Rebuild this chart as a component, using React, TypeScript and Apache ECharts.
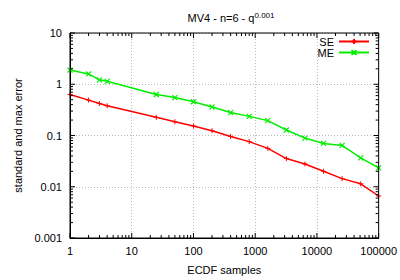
import React, { useEffect, useRef } from "react";
import * as echarts from "echarts";

const samples = [1, 2, 3, 4, 25, 50, 100, 200, 400, 800, 1600, 3200, 6400, 12800, 25600, 51200, 100000];
const seValues = [0.63, 0.49, 0.42, 0.38, 0.226, 0.185, 0.153, 0.124, 0.096, 0.076, 0.056, 0.0355, 0.0278, 0.02, 0.0144, 0.0114, 0.0066];
const meValues = [1.89, 1.59, 1.22, 1.14, 0.63, 0.55, 0.455, 0.36, 0.28, 0.236, 0.195, 0.128, 0.089, 0.07, 0.064, 0.0366, 0.0233];
const xTickLabels = ["1", "10", "100", "1000", "10000", "100000"];
const yTickLabels = ["0.001", "0.01", "0.1", "1", "10"];
const xMajor = [1, 10, 100, 1000, 10000, 100000];
const yMajor = [0.001, 0.01, 0.1, 1, 10];

const X_MIN = 1, X_MAX = 100000, Y_MIN = 0.001, Y_MAX = 10;

function minorsOf(majors: number[]) {
  const out: number[] = [];
  for (let i = 0; i < majors.length - 1; i++) {
    for (let k = 2; k <= 9; k++) out.push(majors[i] * k);
  }
  return out;
}

const FONT = "Liberation Sans, Arial, sans-serif";

export default function App() {
  const ref = useRef<HTMLDivElement>(null);
  useEffect(() => {
    const chart = echarts.init(ref.current!, null, { renderer: "svg" });
    const xTicks = [
      ...xMajor.map((v) => [v, Y_MIN, 5]),
      ...minorsOf(xMajor).map((v) => [v, Y_MIN, 3]),
    ];
    const yTicks = [
      ...yMajor.map((v) => [X_MIN, v, 5]),
      ...minorsOf(yMajor).map((v) => [X_MIN, v, 3]),
    ];
    const tickStyle = { stroke: "#000", lineWidth: 1 };
    chart.setOption({
      animation: false,
      backgroundColor: "#fff",
      textStyle: { fontFamily: FONT },
      title: {
        text: "MV4 - n=6 - q{sup|0.001}",
        left: 226,
        textAlign: "center",
        top: 6,
        textStyle: {
          fontFamily: FONT,
          fontSize: 11,
          fontWeight: "normal",
          color: "#000",
          rich: { sup: { fontSize: 8, verticalAlign: "top", padding: [0, 0, 6, 0], fontFamily: FONT, color: "#000" } },
        },
      },
      legend: {
        data: ["SE", "ME"],
        orient: "vertical",
        right: 30,
        top: 36,
        padding: 0,
        align: "right",
        itemWidth: 30,
        itemHeight: 6,
        itemGap: 0,
        textStyle: { fontFamily: FONT, fontSize: 11, color: "#000" },
      },
      grid: { left: 70, right: 17, top: 33, bottom: 36 },
      xAxis: {
        type: "log",
        logBase: 10,
        min: X_MIN,
        max: X_MAX,
        name: "ECDF samples",
        nameLocation: "middle",
        nameGap: 26,
        nameTextStyle: { fontFamily: FONT, fontSize: 11, color: "#000" },
        axisLine: { show: true, lineStyle: { color: "#000", width: 1 } },
        axisTick: { show: false },
        axisLabel: {
          fontFamily: FONT,
          fontSize: 11,
          color: "#000",
          margin: 7,
          formatter: (v: number) => xTickLabels[Math.round(Math.log10(v))] ?? "",
        },
        splitLine: { show: true, lineStyle: { color: "#bbb", type: [1, 2], width: 1 } },
      },
      yAxis: {
        type: "log",
        logBase: 10,
        min: Y_MIN,
        max: Y_MAX,
        name: "standard and max error",
        nameLocation: "middle",
        nameGap: 36,
        nameTextStyle: { fontFamily: FONT, fontSize: 11, color: "#000" },
        axisLine: { show: true, lineStyle: { color: "#000", width: 1 } },
        axisTick: { show: false },
        axisLabel: {
          fontFamily: FONT,
          fontSize: 11,
          color: "#000",
          margin: 8,
          formatter: (v: number) => yTickLabels[Math.round(Math.log10(v)) + 3] ?? "",
        },
        splitLine: { show: true, lineStyle: { color: "#bbb", type: [1, 2], width: 1 } },
      },
      series: [
        {
          name: "SE",
          type: "line",
          data: samples.map((x, i) => [x, seValues[i]]),
          color: "#ff0000",
          lineStyle: { color: "#ff0000", width: 1.5 },
          symbol: "path://M0,-1L0,1M-1,0L1,0",
          symbolSize: 5,
          showSymbol: true,
          itemStyle: { color: "#ff0000", borderColor: "#ff0000", borderWidth: 1 },
          z: 3,
        },
        {
          name: "ME",
          type: "line",
          data: samples.map((x, i) => [x, meValues[i]]),
          color: "#00ee00",
          lineStyle: { color: "#00ee00", width: 1.5 },
          symbol: "path://M-1,-1L1,1M-1,1L1,-1",
          symbolSize: 5,
          showSymbol: true,
          itemStyle: { color: "#00ee00", borderColor: "#00ee00", borderWidth: 1.2 },
          z: 3,
        },
        {
          type: "custom",
          silent: true,
          data: xTicks,
          encode: { x: 0, y: 1 },
          renderItem: (params: any, api: any) => {
            const v = api.value(0);
            const len = api.value(2);
            const b = api.coord([v, Y_MIN]);
            const t = api.coord([v, Y_MAX]);
            return {
              type: "group",
              children: [
                { type: "line", shape: { x1: b[0], y1: b[1], x2: b[0], y2: b[1] - len }, style: tickStyle },
                { type: "line", shape: { x1: t[0], y1: t[1], x2: t[0], y2: t[1] + len }, style: tickStyle },
              ],
            };
          },
          z: 4,
        },
        {
          type: "custom",
          silent: true,
          data: yTicks,
          encode: { x: 0, y: 1 },
          renderItem: (params: any, api: any) => {
            const v = api.value(1);
            const len = api.value(2);
            const l = api.coord([X_MIN, v]);
            const r = api.coord([X_MAX, v]);
            return {
              type: "group",
              children: [
                { type: "line", shape: { x1: l[0], y1: l[1], x2: l[0] + len, y2: l[1] }, style: tickStyle },
                { type: "line", shape: { x1: r[0], y1: r[1], x2: r[0] - len, y2: r[1] }, style: tickStyle },
              ],
            };
          },
          z: 4,
        },
        {
          type: "custom",
          silent: true,
          data: [[X_MIN, Y_MIN]],
          encode: { x: 0, y: 1 },
          renderItem: (params: any, api: any) => {
            const a = api.coord([X_MIN, Y_MIN]);
            const b = api.coord([X_MAX, Y_MAX]);
            return {
              type: "rect",
              shape: { x: a[0], y: b[1], width: b[0] - a[0], height: a[1] - b[1] },
              style: { fill: "none", stroke: "#000", lineWidth: 1 },
            };
          },
          z: 4,
        },
      ],
    });
    return () => chart.dispose();
  }, []);
  return <div ref={ref} style={{ width: 400, height: 280, position: "absolute", left: 0, top: 0 }} />;
}
